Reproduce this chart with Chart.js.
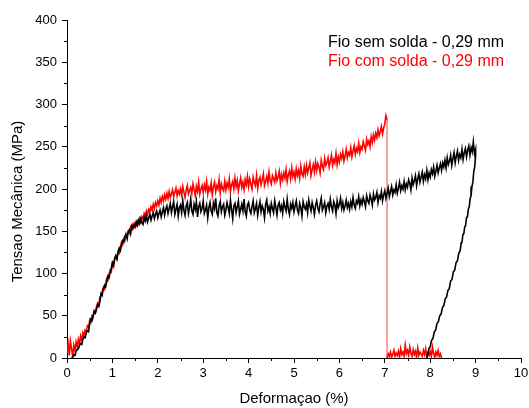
<!DOCTYPE html>
<html><head><meta charset="utf-8">
<script src="https://cdn.jsdelivr.net/npm/chart.js@4.4.0/dist/chart.umd.min.js"></script>
<style>html,body{margin:0;padding:0;background:#fff;}canvas{display:block;}</style>
</head><body>
<canvas id="c" width="529" height="408"></canvas>
<script>
// Shared strain grid (%), 0 .. 9 step 0.025
const strainGrid = [
0,0.025,0.05,0.075,0.1,0.125,0.15,0.175,0.2,0.225,
0.25,0.275,0.3,0.325,0.35,0.375,0.4,0.425,0.45,0.475,
0.5,0.525,0.55,0.575,0.6,0.625,0.65,0.675,0.7,0.725,
0.75,0.775,0.8,0.825,0.85,0.875,0.9,0.925,0.95,0.975,
1,1.025,1.05,1.075,1.1,1.125,1.15,1.175,1.2,1.225,
1.25,1.275,1.3,1.325,1.35,1.375,1.4,1.425,1.45,1.475,
1.5,1.525,1.55,1.575,1.6,1.625,1.65,1.675,1.7,1.725,
1.75,1.775,1.8,1.825,1.85,1.875,1.9,1.925,1.95,1.975,
2,2.025,2.05,2.075,2.1,2.125,2.15,2.175,2.2,2.225,
2.25,2.275,2.3,2.325,2.35,2.375,2.4,2.425,2.45,2.475,
2.5,2.525,2.55,2.575,2.6,2.625,2.65,2.675,2.7,2.725,
2.75,2.775,2.8,2.825,2.85,2.875,2.9,2.925,2.95,2.975,
3,3.025,3.05,3.075,3.1,3.125,3.15,3.175,3.2,3.225,
3.25,3.275,3.3,3.325,3.35,3.375,3.4,3.425,3.45,3.475,
3.5,3.525,3.55,3.575,3.6,3.625,3.65,3.675,3.7,3.725,
3.75,3.775,3.8,3.825,3.85,3.875,3.9,3.925,3.95,3.975,
4,4.025,4.05,4.075,4.1,4.125,4.15,4.175,4.2,4.225,
4.25,4.275,4.3,4.325,4.35,4.375,4.4,4.425,4.45,4.475,
4.5,4.525,4.55,4.575,4.6,4.625,4.65,4.675,4.7,4.725,
4.75,4.775,4.8,4.825,4.85,4.875,4.9,4.925,4.95,4.975,
5,5.025,5.05,5.075,5.1,5.125,5.15,5.175,5.2,5.225,
5.25,5.275,5.3,5.325,5.35,5.375,5.4,5.425,5.45,5.475,
5.5,5.525,5.55,5.575,5.6,5.625,5.65,5.675,5.7,5.725,
5.75,5.775,5.8,5.825,5.85,5.875,5.9,5.925,5.95,5.975,
6,6.025,6.05,6.075,6.1,6.125,6.15,6.175,6.2,6.225,
6.25,6.275,6.3,6.325,6.35,6.375,6.4,6.425,6.45,6.475,
6.5,6.525,6.55,6.575,6.6,6.625,6.65,6.675,6.7,6.725,
6.75,6.775,6.8,6.825,6.85,6.875,6.9,6.925,6.95,6.975,
7,7.025,7.05,7.075,7.1,7.125,7.15,7.175,7.2,7.225,
7.25,7.275,7.3,7.325,7.35,7.375,7.4,7.425,7.45,7.475,
7.5,7.525,7.55,7.575,7.6,7.625,7.65,7.675,7.7,7.725,
7.75,7.775,7.8,7.825,7.85,7.875,7.9,7.925,7.95,7.975,
8,8.025,8.05,8.075,8.1,8.125,8.15,8.175,8.2,8.225,
8.25,8.275,8.3,8.325,8.35,8.375,8.4,8.425,8.45,8.475,
8.5,8.525,8.55,8.575,8.6,8.625,8.65,8.675,8.7,8.725,
8.75,8.775,8.8,8.825,8.85,8.875,8.9,8.925,8.95,8.975,
9];

// Fio sem solda - loading (MPa), on strainGrid
const stressSemSolda = [
null,null,null,null,0,1,4,3,8,10,
11,15,17,16,22,25,24,30,32,31,
41,46,44,50,55,53,58,63,61,67,
76,74,82,86,84,90,97,95,101,106,
113,110,118,121,117,125,130,127,134,139,
137,144,146,141,150,152,147,156,153,158,
155,161,157,163,159,165,160,158,166,162,
168,161,166,170,163,168,172,165,170,174,
166,171,175,167,173,178,169,176,180,171,
177,183,172,179,185,170,176,182,168,178,
181,172,186,175,169,180,184,171,178,188,
174,170,182,176,185,167,179,183,173,177,
186,171,175,181,166,178,184,174,170,183,
177,189,172,168,180,185,173,179,182,169,
175,184,178,171,187,176,165,180,183,172,
179,186,170,176,182,174,188,173,168,181,
184,175,171,179,186,172,177,183,169,178,
185,173,180,176,166,182,187,174,179,171,
183,177,172,186,178,169,181,184,175,180,
171,185,179,174,188,176,170,182,177,184,
173,180,186,175,171,183,178,168,185,179,
176,182,172,187,180,174,184,178,170,181,
186,177,173,182,189,175,179,184,172,180,
183,176,188,179,174,185,181,171,186,178,
182,189,177,184,175,180,187,178,183,176,
185,179,190,181,177,186,183,191,180,187,
182,190,185,179,192,186,183,193,188,181,
194,187,190,196,184,192,189,197,186,193,
198,189,195,201,191,197,203,193,199,196,
205,195,201,208,198,204,200,209,199,206,
202,211,207,199,213,205,210,216,204,212,
218,208,214,220,209,217,212,222,211,219,
214,223,218,226,215,221,228,219,225,230,
222,231,226,234,225,237,229,233,240,228,
236,243,231,239,245,234,241,237,247,235,
243,248,238,246,251,240,249,244,256,242,
247];

// Fio sem solda - unloading
const unloadStrain = [9.00,8.98,8.96,8.94,8.92,8.90,8.88,8.86,8.84,8.82,8.80,8.78,8.76,8.74,8.72,8.70,8.68,8.66,8.63,8.60,8.57,8.54,8.51,8.48,8.45,8.42,8.39,8.36,8.33,8.30,8.27,8.24,8.21,8.18,8.15,8.12,8.09,8.06,8.03,8.00,7.97,7.95,7.93];
const unloadStress = [240,226,221,208,203,192,189,179,176,167,166,157,155,147,146,137,135,127,124,115,113,104,102,93,91,82,80,72,70,62,60,52,50,43,41,33,31,23,21,13,11,4,1];

// Fio com solda - loading (MPa), on strainGrid (0 .. 7.05)
const stressComSolda = [
6,17,3,20,11,2,15,9,19,13,
22,16,26,21,30,27,33,31,38,36,
45,42,50,48,56,54,61,65,63,72,
74,79,83,81,88,94,92,99,104,102,
111,108,116,121,118,126,124,131,137,134,
141,139,147,144,150,148,155,152,158,155,
160,157,162,159,165,161,167,164,171,168,
174,170,176,173,179,175,182,177,184,180,
186,181,189,184,191,186,193,188,195,189,
197,190,194,199,191,196,201,192,198,194,
200,193,203,196,190,199,204,194,198,202,
195,206,199,192,203,197,208,194,200,204,
196,205,199,209,194,202,198,207,193,203,
208,197,204,200,211,195,206,201,198,209,
199,207,202,212,197,205,209,200,213,203,
210,198,206,213,202,208,199,211,205,215,
203,212,206,200,214,208,204,216,201,210,
214,205,211,218,204,209,215,207,220,210,
206,216,212,208,219,210,214,221,207,217,
211,219,213,223,209,217,221,212,225,215,
220,212,224,216,222,213,227,218,215,226,
217,228,219,225,231,216,223,229,220,232,
222,230,226,219,234,227,223,236,228,231,
237,226,233,240,228,235,231,242,229,238,
232,241,236,244,233,239,247,237,243,240,
249,238,245,251,241,248,244,254,243,250,
247,256,251,246,259,253,257,250,262,255,
264,258,266,261,270,263,268,274,265,272,
277,287,282];

// Fio com solda - after rupture
const tailStrain = [
7.05,7.075,7.1,7.125,7.15,7.175,7.2,7.225,7.25,7.275,
7.3,7.325,7.35,7.375,7.4,7.425,7.45,7.475,7.5,7.525,
7.55,7.575,7.6,7.625,7.65,7.675,7.7,7.725,7.75,7.775,
7.8,7.825,7.85,7.875,7.9,7.925,7.95,7.975,8,8.025,
8.05,8.075,8.1,8.125,8.15,8.175,8.2,8.225,8.25];
const tailStress = [
0,5,2,7,1,4,9,2,6,3,
8,1,11,4,7,2,15,5,9,3,
13,6,2,10,4,8,1,12,3,7,
5,2,9,4,11,1,6,3,8,2,
13,5,1,7,3,9,2,5,0];

const labels = ['Fio sem solda - 0,29 mm', 'Fio com solda - 0,29 mm'];
const colors = ['#000000', '#ff0000'];

const blackData = [];
strainGrid.forEach((x,i)=>{ if(stressSemSolda[i]!==null && stressSemSolda[i]!==undefined) blackData.push({x:x,y:stressSemSolda[i]}); });
unloadStrain.forEach((x,i)=>blackData.push({x:x,y:unloadStress[i]}));
const redData = [];
stressComSolda.forEach((y,i)=>redData.push({x:strainGrid[i],y:y}));
tailStrain.forEach((x,i)=>redData.push({x:x,y:tailStress[i]}));

const FONT = 'Liberation Sans, Arial, Helvetica, sans-serif';
const isInt = v => Math.abs(v - Math.round(v)) < 1e-6;

const minorTicks = {
  id:'minorTicks',
  afterDraw(chart){
    const ctx=chart.ctx, xs=chart.scales.x, ys=chart.scales.y;
    ctx.save(); ctx.strokeStyle='#000'; ctx.lineWidth=1;
    xs.ticks.forEach(t=>{ if(!isInt(t.value)){ const px=Math.round(xs.getPixelForValue(t.value))+0.5; ctx.beginPath(); ctx.moveTo(px, xs.top); ctx.lineTo(px, xs.top+3); ctx.stroke(); }});
    ys.ticks.forEach(t=>{ if(Math.round(t.value)%50!==0){ const py=Math.round(ys.getPixelForValue(t.value))+0.5; ctx.beginPath(); ctx.moveTo(ys.right, py); ctx.lineTo(ys.right-3, py); ctx.stroke(); }});
    ctx.restore();
  }
};
const textLegend = {
  id:'textLegend',
  afterDraw(chart){
    const ctx=chart.ctx;
    ctx.save(); ctx.font='16px '+FONT; ctx.textBaseline='middle'; ctx.textAlign='left';
    chart.data.datasets.forEach((d,i)=>{ ctx.fillStyle=d.borderColor; ctx.fillText(d.label, 328, 43+i*19); });
    ctx.restore();
  }
};

new Chart(document.getElementById('c'), {
  type:'scatter',
  data:{datasets:[
    {label:labels[0], data:blackData, borderColor:colors[0], backgroundColor:colors[0], showLine:true, pointRadius:0, borderWidth:1.6, tension:0},
    {label:labels[1], data:redData, borderColor:colors[1], backgroundColor:colors[1], showLine:true, pointRadius:0, borderWidth:1.6, tension:0,
     segment:{
       borderColor:s=>(Math.abs(s.p0.parsed.x - s.p1.parsed.x) < 1e-9) ? 'rgba(255,0,0,0.5)' : undefined,
       borderWidth:s=>(Math.abs(s.p0.parsed.x - s.p1.parsed.x) < 1e-9) ? 1.5 : undefined
     }}
  ]},
  options:{
    responsive:false, animation:false,
    layout:{padding:{top:20,right:8,left:0,bottom:0}},
    plugins:{legend:{display:false}, tooltip:{enabled:false}},
    scales:{
      x:{type:'linear', min:0, max:10,
        ticks:{stepSize:0.5, autoSkip:false, maxRotation:0, padding:3, color:'#000', font:{family:FONT,size:13},
          callback:v=>isInt(v)?String(Math.round(v)):''},
        grid:{drawOnChartArea:false, drawTicks:true, tickLength:5, lineWidth:1,
          color:c=>(c.tick && isInt(c.tick.value))?'#000':'rgba(0,0,0,0)'},
        border:{display:true, color:'#000', width:1},
        title:{display:true, text:'Deformaçao (%)', color:'#000', font:{family:FONT,size:15}, padding:{top:0,bottom:0}},
        afterFit:s=>{s.height=50; s.paddingRight=0; s.paddingLeft=0;}
      },
      y:{min:0, max:400,
        ticks:{stepSize:25, autoSkip:false, padding:5, color:'#000', font:{family:FONT,size:13},
          callback:v=>(Math.round(v)%50===0)?String(Math.round(v)):''},
        grid:{drawOnChartArea:false, drawTicks:true, tickLength:5, lineWidth:1,
          color:c=>(c.tick && Math.round(c.tick.value)%50===0)?'#000':'rgba(0,0,0,0)'},
        border:{display:true, color:'#000', width:1},
        title:{display:true, text:'Tensao Mecânica (MPa)\u00a0\u00a0\u00a0\u00a0\u00a0\u00a0', color:'#000', font:{family:FONT,size:15}, padding:{top:9,bottom:0}},
        afterFit:s=>{s.width=67; s.paddingTop=0; s.paddingBottom=0;}
      }
    }
  },
  plugins:[minorTicks, textLegend]
});
</script>
</body></html>
